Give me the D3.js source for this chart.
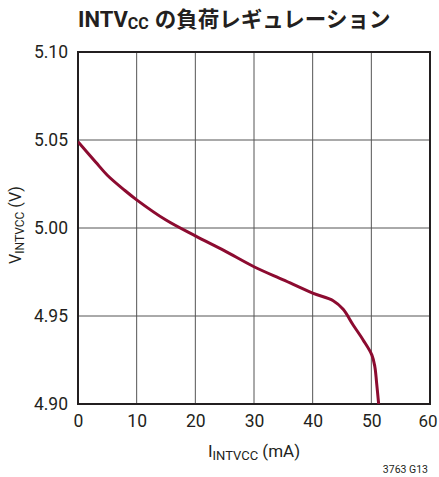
<!DOCTYPE html>
<html>
<head>
<meta charset="utf-8">
<script src="https://cdn.jsdelivr.net/npm/d3@7"></script>
<style>
  body { margin: 0; background: #fff; }
  text { font-family: Roboto, "Noto Sans CJK JP", sans-serif; fill: #231f20; }
</style>
</head>
<body>
<svg id="chart"></svg>
<script>
// INTVcc load regulation
const currentMA = [0, 3, 5, 8, 10, 15, 20, 25, 30, 35, 40, 43.5, 45.2, 46.9, 48.6, 50.1, 50.6, 50.9, 51.25];
const voltageV = [5.049, 5.0375, 5.030, 5.0213, 5.016, 5.0045, 4.9955, 4.987, 4.978, 4.9705, 4.963, 4.9587, 4.9538, 4.9449, 4.9364, 4.9278, 4.9212, 4.912, 4.900];
const xTicks = [0, 10, 20, 30, 40, 50, 60];
const yTicks = [4.90, 4.95, 5.00, 5.05, 5.10];

const width = 439, height = 477;
const margin = { top: 52, right: 9, bottom: 73, left: 78 };

const svg = d3.select('#chart').attr('width', width).attr('height', height);

const x = d3.scaleLinear().domain([0, 60]).range([margin.left, width - margin.right]);
const y = d3.scaleLinear().domain([4.90, 5.10]).range([height - margin.bottom, margin.top]);

// title
const title = svg.append('text')
  .attr('x', 78).attr('y', 27)
  .attr('font-size', 22).attr('font-weight', 'bold');
title.append('tspan').text('INTV');
title.append('tspan').attr('font-size', 16).attr('dy', 2).text('CC');
title.append('tspan').attr('dy', -2).attr('dx', 6)
  .style('font-family', '"Noto Sans CJK JP", sans-serif').attr('font-size', 21.5)
  .text('の負荷レギュレーション');

// grid
svg.append('g').selectAll('line')
  .data(xTicks.slice(1, -1))
  .enter().append('line')
  .attr('x1', d => x(d)).attr('x2', d => x(d))
  .attr('y1', y(5.10)).attr('y2', y(4.90))
  .attr('stroke', '#555').attr('stroke-width', 1);

svg.append('g').selectAll('line')
  .data(yTicks.slice(1, -1))
  .enter().append('line')
  .attr('x1', x(0)).attr('x2', x(60))
  .attr('y1', d => y(d)).attr('y2', d => y(d))
  .attr('stroke', '#555').attr('stroke-width', 1);

// axes (labels only, frame drawn separately)
const xAxis = svg.append('g')
  .attr('transform', `translate(0,${y(4.90)})`)
  .call(d3.axisBottom(x).tickValues(xTicks).tickSize(0).tickPadding(11));
const yAxis = svg.append('g')
  .attr('transform', `translate(${x(0)},0)`)
  .call(d3.axisLeft(y).tickValues(yTicks).tickFormat(d3.format('.2f')).tickSize(0).tickPadding(10));
[xAxis, yAxis].forEach(a => {
  a.select('.domain').remove();
  a.selectAll('text').attr('font-size', 17.5).attr('fill', '#231f20')
    .style('font-family', 'Roboto, sans-serif');
});
// keep the last x label inside the window
xAxis.selectAll('text').filter(d => d === 60)
  .attr('font-size', 17).attr('text-anchor', 'end').attr('dx', 7);

// frame
svg.append('rect')
  .attr('x', x(0)).attr('y', y(5.10))
  .attr('width', x(60) - x(0)).attr('height', y(4.90) - y(5.10))
  .attr('fill', 'none').attr('stroke', '#231f20').attr('stroke-width', 2);

// curve
svg.append('clipPath').attr('id', 'plot')
  .append('rect')
  .attr('x', x(0)).attr('y', y(5.10))
  .attr('width', x(60) - x(0)).attr('height', y(4.90) - y(5.10));

const line = d3.line()
  .x((d, i) => x(currentMA[i]))
  .y(d => y(d))
  .curve(d3.curveCatmullRom.alpha(0.5));

svg.append('path')
  .datum(voltageV)
  .attr('clip-path', 'url(#plot)')
  .attr('d', line)
  .attr('fill', 'none')
  .attr('stroke', '#8c0b30')
  .attr('stroke-width', 3);

// axis titles
const xt = svg.append('text')
  .attr('x', 254).attr('y', 457).attr('text-anchor', 'middle').attr('font-size', 17);
xt.append('tspan').text('I');
xt.append('tspan').attr('font-size', 13).attr('dy', 3).text('INTVCC');
xt.append('tspan').attr('dy', -3).text(' (mA)');

const yt = svg.append('text')
  .attr('transform', 'translate(21,225) rotate(-90)')
  .attr('text-anchor', 'middle').attr('font-size', 16);
yt.append('tspan').text('V');
yt.append('tspan').attr('font-size', 12).attr('dy', 3).text('INTVCC');
yt.append('tspan').attr('dy', -3).text(' (V)');

svg.append('text')
  .attr('x', 428).attr('y', 473).attr('text-anchor', 'end').attr('font-size', 10.5)
  .text('3763 G13');
</script>
</body>
</html>
